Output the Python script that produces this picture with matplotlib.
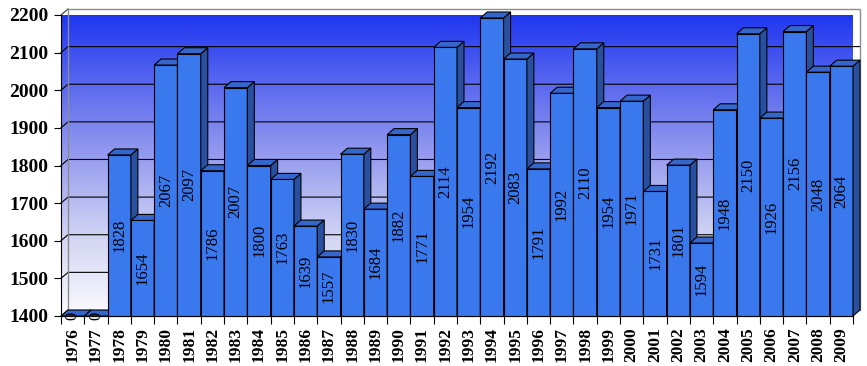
import numpy as np
import matplotlib
matplotlib.use("Agg")
from matplotlib import pyplot as plt
from matplotlib.patches import Polygon, Rectangle
from matplotlib.colors import LinearSegmentedColormap

years = list(range(1976, 2010))
values = [0, 0, 1828, 1654, 2067, 2097, 1786, 2007, 1800, 1763,
          1639, 1557, 1830, 1684, 1882, 1771, 2114, 1954, 2192, 2083,
          1791, 1992, 2110, 1954, 1971, 1731, 1801, 1594, 1948, 2150,
          1926, 2156, 2048, 2064]
y_ticks = list(range(1400, 2201, 100))

ymin, ymax = 1400, 2200
n = len(years)
# depth of the 3d effect, in data units
dx = 0.30
dy = 16

front_c = '#3a78ee'
side_c = '#28509f'
top_c = '#3466cc'

fig = plt.figure(figsize=(8.67, 3.66), dpi=100)
ax = fig.add_axes([61/867, 50/366, 792/867, 301/366])
ax.patch.set_visible(False)

x0, x1 = -0.5, n - 0.5

# gradient walls (back + left side + floor)
wall = Polygon([(x0, ymin), (x0, ymax), (x0 + dx, ymax + dy), (x1 + dx, ymax + dy),
                (x1 + dx, ymin + dy), (x1, ymin)], closed=True,
               transform=ax.transData, facecolor='none', edgecolor='none')
ax.add_patch(wall)
cmap = LinearSegmentedColormap.from_list('bg', [(0.0, '#1a32f0'), (0.45, '#8f96ee'),
                                                 (0.75, '#d4d6f4'), (1.0, '#fbfbfd')])
grad = np.linspace(0, 1, 256).reshape(-1, 1)
im = ax.imshow(grad, cmap=cmap, aspect='auto', origin='upper',
               extent=[x0, x1 + dx, ymin, ymax + dy], zorder=0)
im.set_clip_path(wall)
im.set_clip_box(None)

# gridlines on side + back wall
for t in y_ticks[1:-1]:
    ax.plot([x0, x0 + dx, x1 + dx], [t, t + dy, t + dy], color='black', lw=0.8,
            zorder=1, clip_on=False)
ax.plot([x0, x0 + dx], [ymax, ymax + dy], color='#333333', lw=0.8, zorder=1, clip_on=False)
ax.plot([x0, x0 + dx], [ymin, ymin + dy], color='#333333', lw=0.8, zorder=1, clip_on=False)
ax.plot([x0 + dx, x0 + dx, x1 + dx, x1 + dx], [ymin + dy, ymax + dy, ymax + dy, ymin + dy],
        color='#8c8c8c', lw=1.0, zorder=1, clip_on=False)

# 3d bars
z = 2
for i, v in enumerate(values):
    top = max(v, ymin)
    l, r = i - 0.5, i + 0.5
    ax.add_patch(Rectangle((l, ymin), 1, top - ymin, facecolor=front_c, edgecolor='black',
                           lw=0.8, zorder=z, clip_on=False))
    ax.add_patch(Polygon([(r, ymin), (r + dx, ymin + dy), (r + dx, top + dy), (r, top)],
                         facecolor=side_c, edgecolor='black', lw=0.8, zorder=z, clip_on=False))
    ax.add_patch(Polygon([(l, top), (l + dx, top + dy), (r + dx, top + dy), (r, top)],
                         facecolor=top_c, edgecolor='black', lw=0.8, zorder=z, clip_on=False))
    z += 0.01

for i, v in enumerate(values):
    top = max(v, ymin)
    ax.text(i, (ymin + top) / 2, str(v), rotation=90, ha='center', va='center',
            fontsize=12, family='Liberation Serif', color='black', zorder=10)

ax.set_xlim(x0, x1)
ax.set_ylim(ymin, ymax)

ax.set_yticks(y_ticks)
ax.set_yticklabels([str(t) for t in y_ticks], fontsize=14, fontweight='bold',
                   family='Liberation Serif')
ax.tick_params(axis='y', direction='out', length=5, width=0.8, pad=4)

ax.set_xticks(np.arange(x0, x1 + 0.01, 1))
ax.set_xticklabels([])
ax.tick_params(axis='x', which='major', direction='out', length=6, width=0.8)
ax.set_xticks(range(n), minor=True)
ax.set_xticklabels([str(y) for y in years], minor=True, rotation=90, fontsize=12.5,
                   fontweight='bold', family='Liberation Serif')
ax.tick_params(axis='x', which='minor', length=0, pad=8)

for s in ['top', 'right']:
    ax.spines[s].set_visible(False)
for s in ['left', 'bottom']:
    ax.spines[s].set_linewidth(0.8)
    ax.spines[s].set_zorder(1.5)

fig.savefig('out.png', dpi=100)
